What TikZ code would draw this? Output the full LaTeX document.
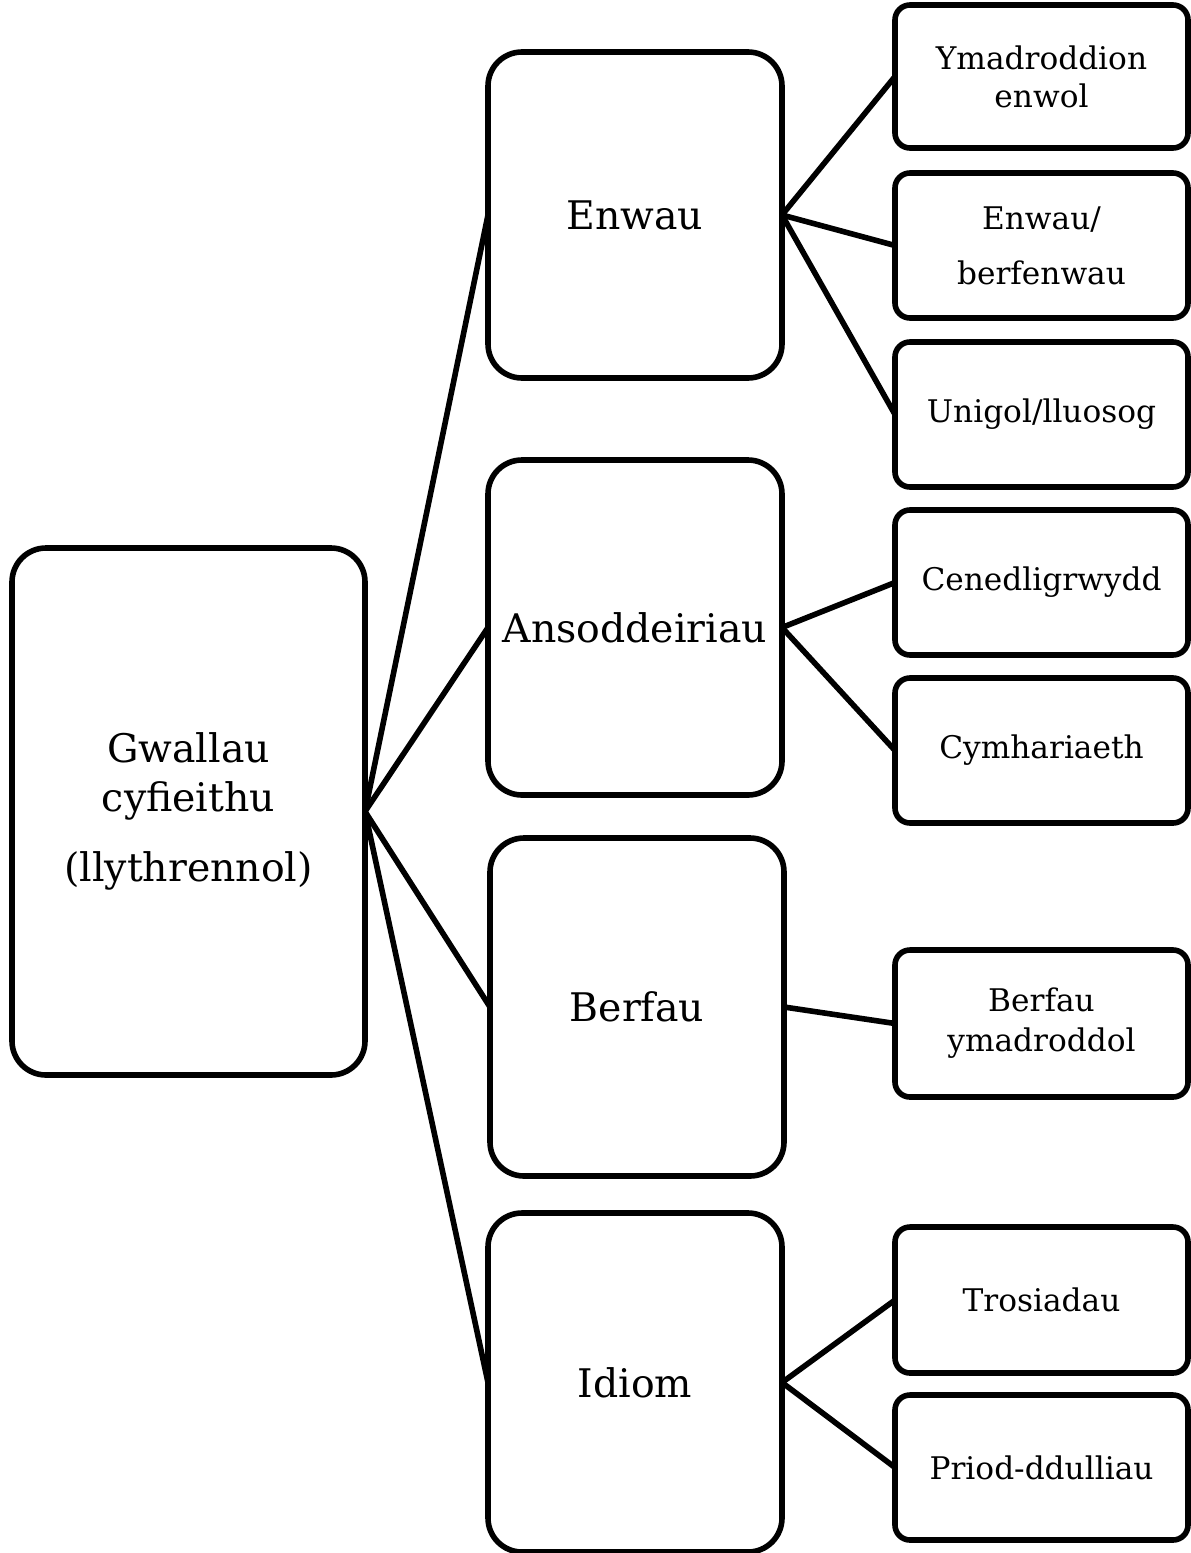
\documentclass[tikz,border=0pt]{standalone}
\usepackage{fontspec}
\setmainfont{DejaVu Serif}
\begin{document}
\begin{tikzpicture}[x=0.5pt,y=-0.5pt,
  box/.style={draw=black,line width=2.8pt,rounded corners=17pt,inner sep=0pt,outer sep=0pt,align=center},
  bigtxt/.style={font=\fontsize{19.7}{24.5}\selectfont},
  leaf/.style={draw=black,line width=2.8pt,rounded corners=7.5pt,inner sep=0pt,outer sep=0pt,align=center,
    minimum width=146.5pt,font=\fontsize{15.6}{19}\selectfont},
  link/.style={line width=2.8pt}]
\useasboundingbox (0,0) rectangle (1190,1553);

% root of the tree
\node[box,bigtxt,minimum width=176.5pt,minimum height=263.5pt] (root) at (188.5,811.5)
  {Gwallau\\cyfieithu\\[10.5pt](llythrennol)};

% second level
\node[box,bigtxt,minimum width=147pt,minimum height=163pt]   (enw)  at (635,215)    {Enwau};
\node[box,bigtxt,minimum width=147pt,minimum height=167.5pt] (ans)  at (635,627.5)  {Ansoddeiriau};
\node[box,bigtxt,minimum width=147pt,minimum height=169pt]   (berf) at (637,1007)   {Berfau};
\node[box,bigtxt,minimum width=147pt,minimum height=169.5pt] (idi)  at (635,1382.5) {Idiom};

% leaves
\node[leaf,minimum height=71.5pt] (ymad) at (1041.5,76.5)  {Ymadroddion\\enwol};
\node[leaf,minimum height=72.5pt] (enbe) at (1041.5,245.5) {Enwau/\\[8.5pt]berfenwau};
\node[leaf,minimum height=72.5pt] (unig) at (1041.5,414.5) {Unigol/lluosog};
\node[leaf,minimum height=72.5pt] (cene) at (1041.5,582.5) {Cenedligrwydd};
\node[leaf,minimum height=72.5pt] (cymh) at (1041.5,750.5) {Cymhariaeth};
\node[leaf,minimum height=73.5pt] (bery) at (1041.5,1023.5) {Berfau\\[1pt]ymadroddol};
\node[leaf,minimum height=73pt]   (tros) at (1041.5,1300)  {Trosiadau};
\node[leaf,minimum height=72.5pt] (prio) at (1041.5,1467.5) {Priod-ddulliau};

% connectors
\foreach \m in {enw,ans,berf,idi}
  \draw[link] (root.east) -- (\m.west);
\foreach \l in {ymad,enbe,unig}
  \draw[link] (enw.east) -- (\l.west);
\foreach \l in {cene,cymh}
  \draw[link] (ans.east) -- (\l.west);
\draw[link] (berf.east) -- (bery.west);
\foreach \l in {tros,prio}
  \draw[link] (idi.east) -- (\l.west);
\end{tikzpicture}
\end{document}
